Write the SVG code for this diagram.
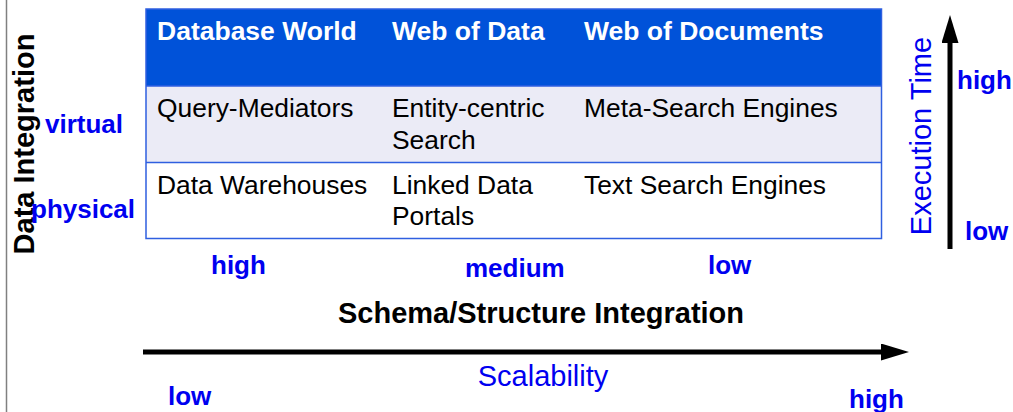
<svg xmlns="http://www.w3.org/2000/svg" width="1013" height="412" viewBox="0 0 1013 412">
  <style>
    text { font-family: "Liberation Sans", Arial, sans-serif; }
    .hdr { font-size: 26.5px; font-weight: bold; fill: #ffffff; }
    .cell { font-size: 26.4px; fill: #000000; }
    .lvl { font-size: 26px; font-weight: bold; fill: #0000f0; }
    .axis { font-size: 29px; font-weight: bold; fill: #000000; }
    .meas { font-size: 29px; fill: #0000f0; }
    .grid { stroke: #2f5fe0; stroke-width: 1.5; fill: none; }
    .arrow { stroke: #000; stroke-width: 5; fill: none; }
  </style>
  <defs>
    <!-- arrowhead starts where the shaft ends -->
    <marker id="head" viewBox="0 0 28 17" refX="0" refY="8.5" markerWidth="28" markerHeight="17" markerUnits="userSpaceOnUse" orient="auto">
      <path d="M0,0 L28,8.5 L0,17 z" fill="#000"/>
    </marker>
  </defs>

  <!-- page edge -->
  <line x1="6.5" y1="0" x2="6.5" y2="412" stroke="#808080" stroke-width="1.5"/>

  <!-- comparison table -->
  <g id="table">
    <rect x="146" y="9" width="735.5" height="77" fill="#0052d9"/>
    <rect x="146" y="86" width="735.5" height="76.5" fill="#ebebf6"/>
    <rect x="146" y="162.5" width="735.5" height="76" fill="#ffffff"/>
    <rect class="grid" x="146" y="9" width="735.5" height="229.5"/>
    <line class="grid" x1="146" y1="86" x2="881.5" y2="86"/>
    <line class="grid" x1="146" y1="162.5" x2="881.5" y2="162.5"/>
  </g>
  <g id="col-database">
    <text class="hdr" x="157" y="40">Database World</text>
    <text class="cell" x="157" y="117">Query-Mediators</text>
    <text class="cell" x="157" y="194">Data Warehouses</text>
  </g>
  <g id="col-webdata">
    <text class="hdr" x="392" y="40">Web of Data</text>
    <text class="cell" x="392" y="117">Entity-centric</text>
    <text class="cell" x="392" y="149">Search</text>
    <text class="cell" x="392" y="194">Linked Data</text>
    <text class="cell" x="392" y="225">Portals</text>
  </g>
  <g id="col-webdocs">
    <text class="hdr" x="584" y="40">Web of Documents</text>
    <text class="cell" x="584" y="117">Meta-Search Engines</text>
    <text class="cell" x="584" y="194">Text Search Engines</text>
  </g>

  <!-- data integration axis -->
  <g id="data-integration">
    <text class="axis" transform="translate(34,144) rotate(-90)" text-anchor="middle">Data Integration</text>
    <text class="lvl" x="45" y="133">virtual</text>
    <text class="lvl" x="31" y="218">physical</text>
  </g>

  <!-- schema integration levels -->
  <g id="schema-integration">
    <text class="lvl" x="211" y="274">high</text>
    <text class="lvl" x="465" y="277">medium</text>
    <text class="lvl" x="708" y="274">low</text>
    <text class="axis" x="541" y="323" text-anchor="middle">Schema/Structure Integration</text>
  </g>

  <!-- arrows -->
  <g id="connectors">
    <line class="arrow" x1="950" y1="249" x2="950" y2="43" marker-end="url(#head)"/>
    <line class="arrow" x1="143" y1="352" x2="881" y2="352" marker-end="url(#head)"/>
  </g>

  <g id="execution-time">
    <text class="meas" transform="translate(931,136) rotate(-90)" text-anchor="middle">Execution Time</text>
    <text class="lvl" x="957" y="89">high</text>
    <text class="lvl" x="965" y="240">low</text>
  </g>

  <g id="scalability">
    <text class="meas" x="543" y="386" text-anchor="middle">Scalability</text>
    <text class="lvl" x="168" y="405">low</text>
    <text class="lvl" x="849" y="408">high</text>
  </g>
</svg>
